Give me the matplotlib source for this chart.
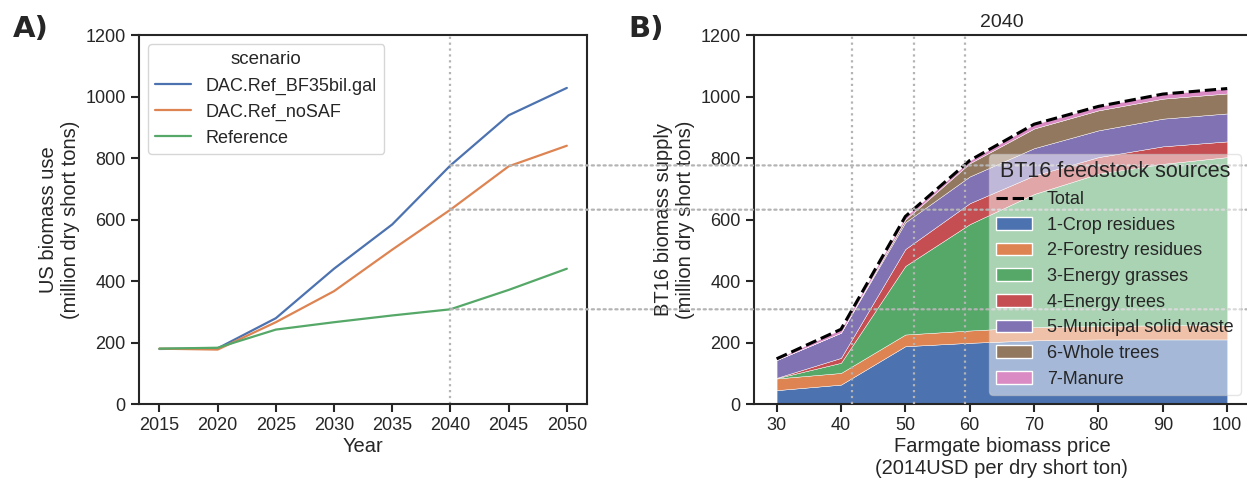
import numpy as np
import matplotlib
matplotlib.use('Agg')
import matplotlib.pyplot as plt
import seaborn as sns
from matplotlib.patches import ConnectionPatch, Patch
from matplotlib.lines import Line2D

# panel A data
years = [2015, 2020, 2025, 2030, 2035, 2040, 2045, 2050]
bf35 = [179, 181, 279, 440, 584, 776, 939, 1028]
nosaf = [180, 177, 266, 367, 502, 632, 773, 840]
reference = [180, 183, 242, 266, 288, 308, 371, 440]

# panel B data (2040 supply curve, increments per feedstock)
price = [30, 40, 50, 60, 70, 80, 90, 100]
crop = [45, 63, 188, 199, 207, 210, 210, 210]
forestry = [38, 38, 38, 40, 43, 44, 46, 47]
grasses = [1, 33, 223, 346, 433, 495, 525, 546]
etrees = [1, 16, 55, 68, 60, 54, 57, 51]
msw = [58, 82, 87, 87, 89, 87, 90, 91]
wtrees = [0, 0, 9, 43, 64, 65, 65, 65]
manure = [4, 11, 10, 9, 14, 13, 15, 16]
feed_names = ['1-Crop residues', '2-Forestry residues', '3-Energy grasses',
              '4-Energy trees', '5-Municipal solid waste', '6-Whole trees', '7-Manure']

# 2040 levels and the matching prices on the supply curve
levels = [776, 632, 308]
level_prices = [59.2, 51.3, 41.75]

sns.set_theme(style='ticks', palette='deep')
plt.rcParams['font.family'] = ['Liberation Sans', 'DejaVu Sans']
plt.rcParams['axes.edgecolor'] = '#262626'
plt.rcParams['axes.linewidth'] = 1.5
plt.rcParams['xtick.major.width'] = 1.5
plt.rcParams['ytick.major.width'] = 1.5
plt.rcParams['xtick.major.size'] = 6
plt.rcParams['ytick.major.size'] = 6
plt.rcParams['xtick.labelsize'] = 13
plt.rcParams['ytick.labelsize'] = 13
plt.rcParams['axes.labelsize'] = 14.5

pal = sns.color_palette('deep')
dot = dict(color='#b4b4b4', linestyle=':', linewidth=1.6)

fig = plt.figure(figsize=(12.47, 4.9), dpi=100)
ax1 = fig.add_axes([0.1115, 0.1755, 0.3594, 0.753])
ax2 = fig.add_axes([0.6047, 0.1755, 0.3975, 0.753])

# panel A
ax1.plot(years, bf35, color=pal[0], lw=1.6, label='DAC.Ref_BF35bil.gal')
ax1.plot(years, nosaf, color=pal[1], lw=1.6, label='DAC.Ref_noSAF')
ax1.plot(years, reference, color=pal[2], lw=1.6, label='Reference')
ax1.axvline(2040, zorder=0.5, **dot)
ax1.set_ylim(0, 1200)
ax1.set_xticks(years)
ax1.set_xlabel('Year', labelpad=2)
ax1.set_ylabel('US biomass use\n(million dry short tons)')
leg1 = ax1.legend(title='scenario', loc='upper left', fontsize=13,
                  title_fontsize=13.5, frameon=True)

# panel B
stack = [crop, forestry, grasses, etrees, msw, wtrees, manure]
ax2.stackplot(price, *stack, colors=pal[:7], labels=feed_names, zorder=1,
              edgecolor='white', linewidth=0.3)
total = np.sum(stack, axis=0)
ax2.plot(price, total, color='black', ls='--', lw=2.2, label='Total', zorder=2)
for p in level_prices:
    ax2.axvline(p, zorder=3, **dot)
ax2.set_xlim(26.5, 103.5)
ax2.set_ylim(0, 1200)
ax2.set_xticks(price)
ax2.set_xlabel('Farmgate biomass price\n(2014USD per dry short ton)', labelpad=2)
ax2.set_ylabel('BT16 biomass supply\n(million dry short tons)')
ax2.set_title('2040', fontsize=14)

for v in levels:
    con = ConnectionPatch(xyA=(2040, v), coordsA=ax1.transData,
                          xyB=(103.5, v), coordsB=ax2.transData, **dot)
    con.set_zorder(3)
    ax2.add_artist(con)

handles = [Line2D([0], [0], color='black', ls='--', lw=2.2)]
handles += [Patch(facecolor=pal[i]) for i in range(7)]
leg2 = ax2.legend(handles, ['Total'] + feed_names, title='BT16 feedstock sources',
                  loc='lower right', fontsize=13, title_fontsize=15.5,
                  framealpha=0.5, handletextpad=0.8, labelspacing=0.48,
                  borderaxespad=0.5)
leg2.set_zorder(5)

fig.text(0.010, 0.925, 'A)', fontsize=21, fontweight='heavy', family='DejaVu Sans')
fig.text(0.504, 0.925, 'B)', fontsize=21, fontweight='heavy', family='DejaVu Sans')

fig.savefig('out.png', dpi=100)
